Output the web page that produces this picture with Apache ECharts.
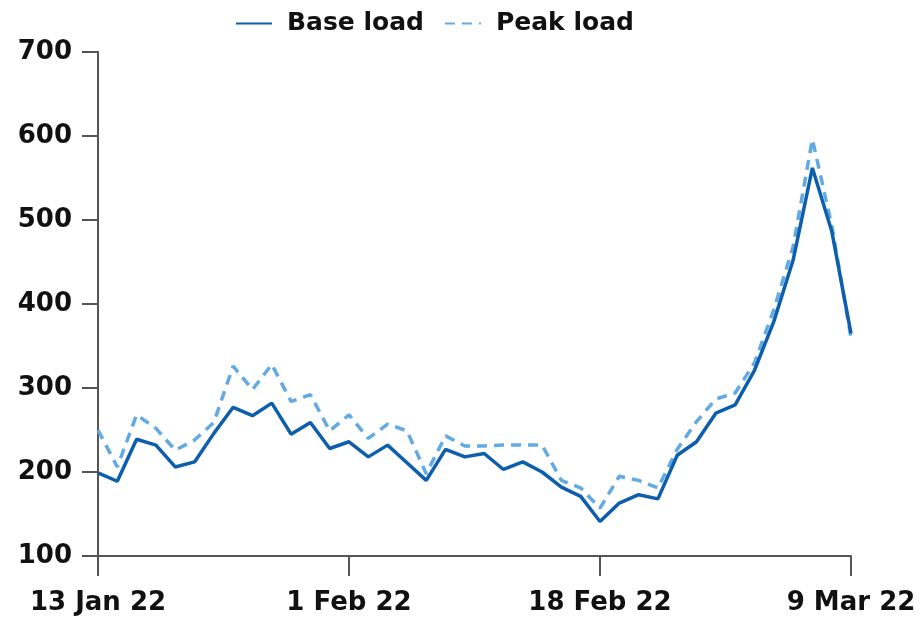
<!DOCTYPE html>
<html>
<head>
<meta charset="utf-8">
<script src="https://cdn.jsdelivr.net/npm/echarts@6/dist/echarts.min.js"></script>
<style>
html,body{margin:0;padding:0;background:#fff;}
#chart{width:924px;height:621px;}
</style>
</head>
<body>
<div id="chart"></div>
<script>
/*business days 13 Jan 22 - 9 Mar 22*/
var days = ['13 Jan 22','14 Jan 22','17 Jan 22','18 Jan 22','19 Jan 22','20 Jan 22','21 Jan 22','24 Jan 22','25 Jan 22','26 Jan 22',
    '27 Jan 22','28 Jan 22','31 Jan 22','1 Feb 22','2 Feb 22','3 Feb 22','4 Feb 22','7 Feb 22','8 Feb 22','9 Feb 22',
    '10 Feb 22','11 Feb 22','14 Feb 22','15 Feb 22','16 Feb 22','17 Feb 22','18 Feb 22','21 Feb 22','22 Feb 22','23 Feb 22',
    '24 Feb 22','25 Feb 22','28 Feb 22','1 Mar 22','2 Mar 22','3 Mar 22','4 Mar 22','7 Mar 22','8 Mar 22','9 Mar 22'];
var baseLoad = [199,189,239,232,206,212,246,277,267,282,
    245,259,228,236,218,232,211,190,227,218,
    222,203,212,200,182,171,141,163,173,168,
    220,236,270,280,321,379,452,562,487,365];
var peakLoad = [250,206,268,252,226,238,259,326,298,328,
    284,292,249,268,240,257,249,198,243,231,
    231,232,232,232,190,181,157,195,190,181,
    227,260,287,294,330,393,468,596,494,360];
var yTicks = {min:100, max:700, step:100};

var option = {
    color: ['#0d5fad','#62aae3'],
    textStyle: {fontFamily: 'DejaVu Sans'},
    legend: {
        top: 6,
        left: 230,
        itemWidth: 36,
        itemHeight: 14,
        itemGap: 20,
        itemStyle: {opacity: 0},
        textStyle: {fontSize: 25, color: '#111', fontWeight: 'bold', padding: [0,0,0,10]},
        data: ['Base load','Peak load']
    },
    grid: {
        left: 98,
        right: 73,
        top: 52,
        bottom: 65
    },
    xAxis: {
        type: 'category',
        boundaryGap: false,
        data: days,
        axisLine: {lineStyle: {color: '#555', width: 2}},
        axisTick: {length: 20, interval: 12, lineStyle: {color: '#555', width: 2}},
        axisLabel: {interval: 12, margin: 34, fontSize: 26, fontWeight: 'bold', color: '#111', showMinLabel: true, showMaxLabel: true}
    },
    yAxis: {
        type: 'value',
        min: yTicks.min,
        max: yTicks.max,
        interval: yTicks.step,
        splitLine: {show: false},
        axisLine: {show: true, lineStyle: {color: '#555', width: 2}},
        axisTick: {show: true, length: 16, lineStyle: {color: '#555', width: 2}},
        axisLabel: {margin: 26, fontSize: 26, fontWeight: 'bold', color: '#111'}
    },
    series: [
        {
            name: 'Base load',
            type: 'line',
            symbol: 'none',
            z: 3,
            lineStyle: {width: 3.5},
            data: baseLoad
        },
        {
            name: 'Peak load',
            type: 'line',
            symbol: 'none',
            z: 2,
            lineStyle: {width: 3.5, type: [10,7]},
            data: peakLoad
        }
    ]
};
echarts.init(document.getElementById('chart')).setOption(option);
</script>
</body>
</html>
